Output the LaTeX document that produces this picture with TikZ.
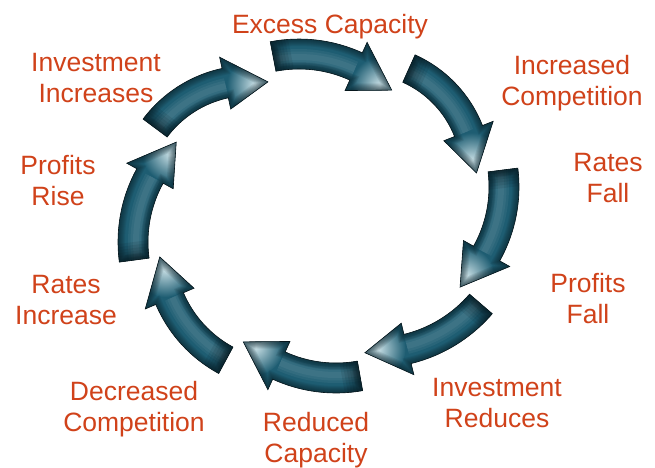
\documentclass[tikz,border=0pt]{standalone}
\usepackage{fontspec}
\setmainfont{Liberation Sans}
\usetikzlibrary{calc}

\definecolor{cycteal}{HTML}{1E5D72}
\definecolor{cycdark}{HTML}{06161C}
\definecolor{cyclight}{HTML}{C8DFE5}
\definecolor{cyctext}{HTML}{D0421A}

\newcommand{\labelfont}{\fontsize{26.5}{31}\selectfont}

% half widths and head length of the curved arrows
\def\bodyw{15}
\def\headw{26.5}
\def\headlen{43}

% curved arrow: centre x, centre y, radius, start angle, end angle
\newcommand{\cycarrow}[5]{%
  \begin{scope}[shift={(#1,#2)}]
    \pgfmathsetmacro{\cycR}{#3}
    \pgfmathsetmacro{\cycfrom}{#4}
    \pgfmathsetmacro{\cycto}{#5}
    \pgfmathsetmacro{\cycbase}{#5+\headlen/#3*180/pi}
    \def\cycpath{(\cycfrom:{\cycR+\bodyw})
      arc[start angle=\cycfrom, end angle=\cycbase, radius=\cycR+\bodyw]
      -- (\cycbase:{\cycR+\headw}) -- (\cycto:\cycR) -- (\cycbase:{\cycR-\headw})
      -- (\cycbase:{\cycR-\bodyw})
      arc[start angle=\cycbase, end angle=\cycfrom, radius=\cycR-\bodyw] -- cycle}
    \fill[cycteal] \cycpath;
    \begin{scope}
      \clip \cycpath;
      % glossy head
      \shade[inner color=cyclight, outer color=cycteal]
        ({\cycto+0.3*(\cycbase-\cycto)}:{\cycR-4}) circle (28);
      % light band along the body
      \foreach \lw in {16,11,6}
        \draw[white, opacity=.05, line width=\lw]
          (\cycfrom:{\cycR-3}) arc[start angle=\cycfrom, end angle=\cycbase, radius=\cycR-3];
      % dark tail end
      \foreach \lw in {36,30,...,6}
        \draw[cycdark, opacity=.1, line width=\lw] (\cycfrom:{\cycR-20}) -- (\cycfrom:{\cycR+20});
      % dark rim
      \foreach \lw in {14,12,...,2}
        \draw[cycdark, opacity=.09, line width=\lw] \cycpath;
    \end{scope}
    \draw[cycdark, line width=.6] \cycpath;
  \end{scope}}

\begin{document}
\begin{tikzpicture}[x=1pt, y=1pt,
    lbl/.style={font=\labelfont, text=cyctext, align=center, inner sep=0pt, anchor=north}
  ]
  \useasboundingbox (0,0) rectangle (655,-467);

  % Arrows, clockwise from the top
  \cycarrow{299}{-191}{137}{100.9}{47.4}
  \cycarrow{362}{-173}{114.5}{65.8}{0}
  \cycarrow{368}{-187}{136}{7.2}{-47.4}
  \cycarrow{374}{-212}{141}{-40.7}{-93.7}
  \cycarrow{336}{-241}{137}{-79.9}{-132.6}
  \cycarrow{286}{-249}{126.5}{-118.4}{-176.4}
  \cycarrow{270}{-242}{137}{187.6}{133.2}
  \cycarrow{250}{-199}{118.5}{143.2}{81.3}

  % Labels
  \node[lbl] (excess)      at (330,-14)  {Excess Capacity};
  \node[lbl] (morecomp)    at (572,-55)  {Increased\\Competition};
  \node[lbl] (ratesfall)   at (608,-153) {Rates\\Fall};
  \node[lbl] (profitsfall) at (588,-273) {Profits\\Fall};
  \node[lbl] (invdown)     at (497,-378) {Investment\\Reduces};
  \node[lbl] (reduced)     at (316,-412) {Reduced\\Capacity};
  \node[lbl] (lesscomp)    at (134,-381) {Decreased\\Competition};
  \node[lbl] (ratesup)     at (66,-275)  {Rates\\Increase};
  \node[lbl] (profitsup)   at (58,-155)  {Profits\\Rise};
  \node[lbl] (invup)       at (96,-53)   {Investment\\Increases};

\end{tikzpicture}
\end{document}
